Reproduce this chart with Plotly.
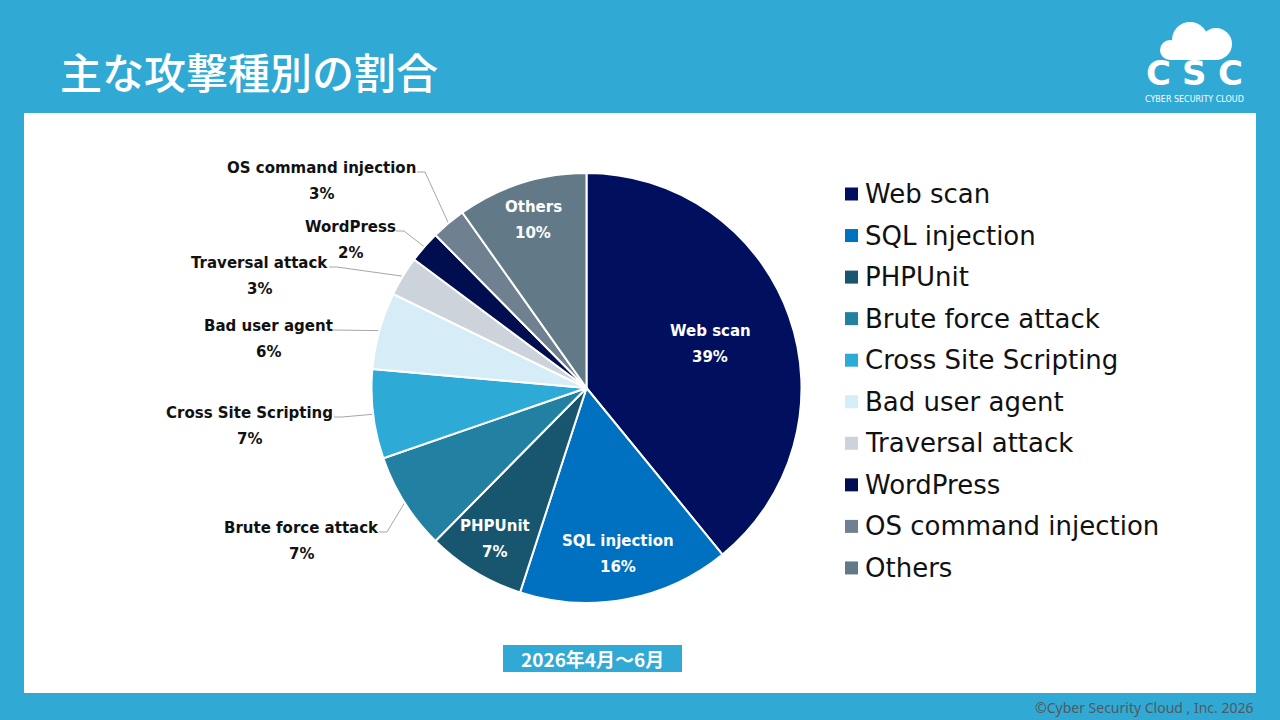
import math
import plotly.graph_objects as go

# attack type share, Apr-Jun 2026
categories = ["Web scan", "SQL injection", "PHPUnit", "Brute force attack",
              "Cross Site Scripting", "Bad user agent", "Traversal attack",
              "WordPress", "OS command injection", "Others"]
values = [39.1, 15.9, 7.4, 7.3, 6.7, 5.8, 3.0, 2.4, 2.6, 9.8]
colors = ["#00105E", "#0070C0", "#17566E", "#2280A2", "#2EAAD6",
          "#D6ECF6", "#CDD3DA", "#000D4F", "#6F8191", "#627A87"]

title = "主な攻撃種別の割合"
period = "2026年4月～6月"
footer = "©Cyber Security Cloud , Inc. 2026"

W, H = 1280, 720
CX, CY, R = 586.5, 388, 215
BLUE = "#31A9D5"

# label placement (style only)
inside_frac = {"Web scan": 0.61, "SQL injection": 0.785, "PHPUnit": 0.82, "Others": 0.82}
outside_pos = {  # name centre x, name y, right end of name text
    "OS command injection": (321, 168, 417),
    "WordPress": (350, 227, 396),
    "Traversal attack": (259, 263, 329),
    "Bad user agent": (268, 326, 333),
    "Cross Site Scripting": (249, 413, 334),
    "Brute force attack": (301, 528, 379),
}

fig = go.Figure()

fig.add_trace(go.Pie(
    labels=categories, values=values, sort=False, direction="clockwise", rotation=0,
    marker=dict(colors=colors, line=dict(color="white", width=2)),
    textinfo="none", showlegend=False, hoverinfo="label+percent",
    domain=dict(x=[(CX - R) / W, (CX + R) / W], y=[1 - (CY + R) / H, 1 - (CY - R) / H]),
))

total = sum(values)
cum = 0
annotations = []
lx, ly = [], []
label_font = dict(family="DejaVu Sans", size=15, weight="bold")
for name, v in zip(categories, values):
    mid = (cum + v / 2) / total * 2 * math.pi
    cum += v
    pct = f"{round(v / total * 100)}%"
    if name in inside_frac:
        f = inside_frac[name] * R
        x = CX + f * math.sin(mid)
        y = CY - f * math.cos(mid)
        for t, dy in ((name, -13), (pct, 13)):
            annotations.append(dict(x=x, y=y + dy, xref="x", yref="y", text=t, showarrow=False,
                                    font=dict(label_font, color="white")))
    else:
        x, y, right = outside_pos[name]
        for t, dy in ((name, 0), (pct, 26)):
            annotations.append(dict(x=x, y=y + dy, xref="x", yref="y", text=t, showarrow=False,
                                    font=dict(label_font, color="#111111")))
        rx = CX + R * math.sin(mid)
        ry = CY - R * math.cos(mid)
        lx += [right, right + 8, rx, None]
        ly += [y + 4, y + 4, ry, None]

fig.add_trace(go.Scatter(x=lx, y=ly, mode="lines", line=dict(color="#A6A6A6", width=1),
                         hoverinfo="skip", showlegend=False))

shapes = [dict(type="rect", x0=24, y0=113, x1=1256, y1=693, xref="x", yref="y",
               fillcolor="white", line=dict(width=0), layer="below")]

# legend drawn by hand to get the wide row spacing
for i, (name, c) in enumerate(zip(categories, colors)):
    yy = 194 + i * 41.55
    shapes.append(dict(type="rect", x0=845, x1=858, y0=yy - 6.5, y1=yy + 6.5, xref="x", yref="y",
                       fillcolor=c, line=dict(width=0)))
    annotations.append(dict(x=863, y=yy, xref="x", yref="y", text=name, showarrow=False,
                            xanchor="left", font=dict(family="DejaVu Sans", size=26, color="#111111")))

# header title
annotations.append(dict(x=58, y=70, xref="x", yref="y", text=title, showarrow=False, xanchor="left",
                        font=dict(family="Noto Sans CJK JP", size=42, color="white", weight=500)))

# period badge
shapes.append(dict(type="rect", x0=503, x1=682, y0=645, y1=672, xref="x", yref="y",
                   fillcolor=BLUE, line=dict(width=0)))
annotations.append(dict(x=592.5, y=658.5, xref="x", yref="y", text=period, showarrow=False,
                        font=dict(family="Noto Sans CJK JP", size=19, color="white", weight="bold")))

# footer
annotations.append(dict(x=1256, y=707, xref="x", yref="y", text=footer, showarrow=False, xanchor="right",
                        font=dict(family="Noto Sans", size=14, color="#505a60")))

# logo: cloud + CSC
for x0, y0, x1, y1 in ((1172, 22, 1208, 58), (1200, 28, 1232, 60), (1160, 40, 1180, 60)):
    shapes.append(dict(type="circle", x0=x0, y0=y0, x1=x1, y1=y1, xref="x", yref="y",
                       fillcolor="white", line=dict(width=0)))
shapes.append(dict(type="rect", x0=1170, x1=1216, y0=46, y1=60, xref="x", yref="y",
                   fillcolor="white", line=dict(width=0)))
for ch, xx in zip("CSC", (1158, 1194, 1230)):
    annotations.append(dict(x=xx, y=73, xref="x", yref="y", text=ch, showarrow=False,
                            font=dict(family="DejaVu Sans", size=34, color="white", weight="bold")))
annotations.append(dict(x=1194, y=99, xref="x", yref="y", text="CYBER SECURITY CLOUD", showarrow=False,
                        font=dict(family="DejaVu Sans", size=8, color="white")))

fig.update_layout(
    width=W, height=H,
    margin=dict(l=0, r=0, t=0, b=0),
    paper_bgcolor=BLUE, plot_bgcolor="rgba(0,0,0,0)",
    xaxis=dict(range=[0, W], visible=False, fixedrange=True),
    yaxis=dict(range=[H, 0], visible=False, fixedrange=True),
    shapes=shapes, annotations=annotations,
)

# drop the default page margin so the figure sits at the window corner
fig.write_html("out.html", config={"displayModeBar": False},
               post_script="document.body.style.margin='0';")
